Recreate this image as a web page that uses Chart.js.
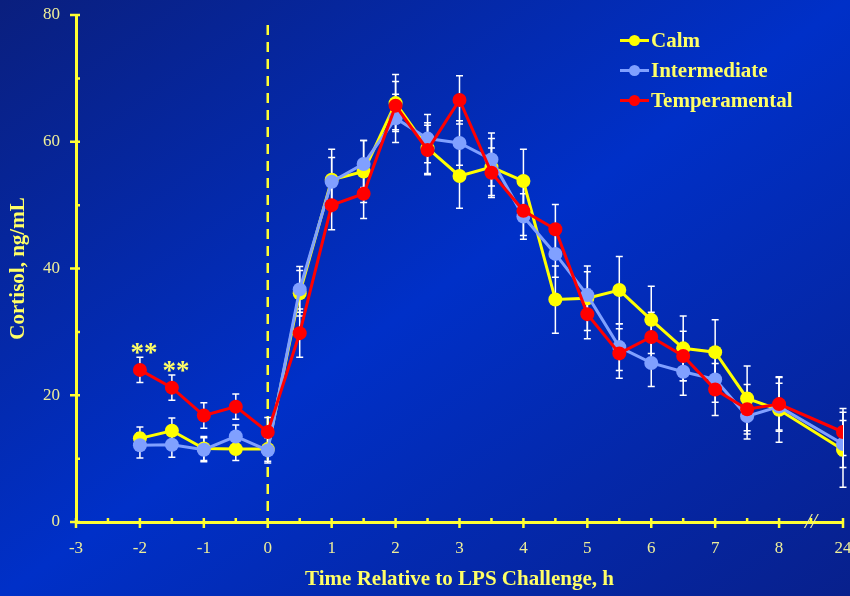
<!DOCTYPE html>
<html>
<head>
<meta charset="utf-8">
<title>Cortisol response to LPS challenge</title>
<script src="https://cdn.jsdelivr.net/npm/chart.js@4.4.1/dist/chart.umd.min.js"></script>
<style>
  html, body { margin: 0; padding: 0; }
  body {
    width: 850px; height: 596px; overflow: hidden; position: relative;
    background: linear-gradient(to bottom right, #0a1f7e 0%, #0030c8 50%, #08208c 100%);
    font-family: "Liberation Serif", "Times New Roman", serif;
  }
  #wrap { position: absolute; left: 0; top: 0; width: 850px; height: 596px; }
  .legend { position: absolute; left: 620px; top: 25px; }
  .legend .item { display: flex; align-items: center; height: 30px; }
  .legend .mark { position: relative; width: 29px; height: 30px; margin-right: 2px; }
  .legend .mark .ln { position: absolute; left: 0; right: 0; top: 14px; height: 3px; }
  .legend .mark .dot { position: absolute; left: 9px; top: 10px; width: 11px; height: 11px; border-radius: 50%; }
  .legend .txt { color: #ffff66; font-weight: bold; font-size: 21px; }
</style>
</head>
<body>
<div id="wrap"><canvas id="chart"></canvas></div>
<div class="legend" id="legend"></div>
<script>
// sampling times (h relative to LPS); 24 h sits past the axis break
const hours = [-2, -1.5, -1, -0.5, 0, 0.5, 1, 1.5, 2, 2.5, 3, 3.5, 4, 4.5, 5, 5.5, 6, 6.5, 7, 7.5, 8, 24];
const xTickLabels = ['-3', '-2', '-1', '0', '1', '2', '3', '4', '5', '6', '7', '8', '24'];
const yTicks = [0, 20, 40, 60, 80];

const calm = [13.2, 14.4, 11.6, 11.5, 11.5, 36.1, 54.0, 55.3, 66.1, 59.0, 54.6, 56.0, 53.8, 35.1, 35.3, 36.6, 31.9, 27.4, 26.8, 19.5, 17.7, 11.4];
const calmSem = [1.8, 2.0, 1.9, 1.8, 1.9, 3.6, 4.8, 4.9, 4.5, 4.0, 5.1, 4.5, 5.0, 5.3, 5.1, 5.3, 5.3, 5.1, 5.1, 5.1, 5.1, 5.9];
const intermediate = [12.1, 12.2, 11.4, 13.5, 11.3, 36.7, 53.7, 56.5, 63.7, 60.5, 59.8, 57.2, 48.2, 42.3, 35.8, 27.6, 25.1, 23.7, 22.5, 16.7, 18.2, 12.3];
const intermediateSem = [2.0, 2.0, 1.9, 1.8, 2.0, 3.6, 3.8, 3.7, 3.8, 3.8, 3.5, 4.2, 3.6, 3.7, 3.7, 3.7, 3.7, 3.7, 3.6, 3.6, 3.7, 3.7];
const temperamental = [24.0, 21.2, 16.8, 18.2, 14.2, 29.8, 50.0, 51.8, 65.7, 58.7, 66.6, 55.1, 49.1, 46.2, 32.8, 26.6, 29.2, 26.2, 20.9, 17.8, 18.6, 14.2];
const temperamentalSem = [2.0, 2.0, 2.0, 2.0, 2.3, 3.8, 3.9, 3.9, 3.8, 3.9, 3.8, 3.9, 3.9, 3.9, 3.9, 3.9, 3.9, 3.9, 4.1, 3.9, 4.3, 3.7];
// temperamental differs from the others (P < 0.01) at these times
const starredHours = [-2, -1.5];

const AXIS_YELLOW = '#ffff33';
const TITLE_YELLOW = '#ffff66';
const TICK_TEXT = '#eeee99';

// 24 h is drawn one step after 8 h (broken axis)
const axisPos = h => (h === 24 ? 9 : h);
const toPoints = values => hours.map((h, i) => ({ x: axisPos(h), y: values[i] }));

const series = [
    { label: 'Calm', data: calm, sem: calmSem, color: '#ffff00', order: 3 },
    { label: 'Intermediate', data: intermediate, sem: intermediateSem, color: '#80a0ff', order: 2 },
    { label: 'Temperamental', data: temperamental, sem: temperamentalSem, color: '#ff0000', order: 1 }
];

const decorations = {
    id: 'decorations',
    beforeDatasetsDraw(chart) {
        const { ctx, chartArea, scales: { x, y } } = chart;
        ctx.save();
        // dashed line at LPS challenge
        ctx.strokeStyle = AXIS_YELLOW;
        ctx.lineWidth = 2.5;
        ctx.setLineDash([10, 7]);
        const x0 = x.getPixelForValue(0);
        ctx.beginPath();
        ctx.moveTo(x0, chartArea.top + 10);
        ctx.lineTo(x0, chartArea.bottom);
        ctx.stroke();
        ctx.setLineDash([]);

        // SEM whiskers
        ctx.strokeStyle = '#ffffff';
        ctx.lineWidth = 1.5;
        series.forEach(s => {
            hours.forEach((h, i) => {
                const px = x.getPixelForValue(axisPos(h));
                const top = y.getPixelForValue(s.data[i] + s.sem[i]);
                const bot = y.getPixelForValue(s.data[i] - s.sem[i]);
                ctx.beginPath();
                ctx.moveTo(px, top); ctx.lineTo(px, bot);
                ctx.moveTo(px - 3.5, top); ctx.lineTo(px + 3.5, top);
                ctx.moveTo(px - 3.5, bot); ctx.lineTo(px + 3.5, bot);
                ctx.stroke();
            });
        });
        ctx.restore();
    },
    afterDraw(chart) {
        const { ctx, chartArea, scales: { x, y } } = chart;
        ctx.save();
        ctx.strokeStyle = AXIS_YELLOW;
        ctx.lineWidth = 2.5;
        const ax = chartArea.left, ay = chartArea.bottom;
        ctx.beginPath();
        for (let v = 0; v <= 80; v += 10) {
            const py = y.getPixelForValue(v);
            const major = v % 20 === 0;
            ctx.moveTo(major ? ax - 6 : ax, py);
            ctx.lineTo(ax + 4, py);
        }
        for (let v = -3; v <= 9; v += 0.5) {
            const px = x.getPixelForValue(v);
            const major = Number.isInteger(v);
            ctx.moveTo(px, ay - 4);
            ctx.lineTo(px, major ? ay + 6 : ay);
        }
        ctx.stroke();

        // axis break between 8 h and 24 h
        ctx.fillStyle = TICK_TEXT;
        ctx.font = 'italic 22px "Liberation Serif", serif';
        ctx.textAlign = 'center';
        ctx.textBaseline = 'middle';
        ctx.fillText('//', x.getPixelForValue(8.5), ay);

        // significance marks above temperamental whiskers
        ctx.fillStyle = TITLE_YELLOW;
        ctx.font = 'bold 27px "Liberation Serif", serif';
        ctx.textBaseline = 'alphabetic';
        starredHours.forEach(h => {
            const i = hours.indexOf(h);
            const px = x.getPixelForValue(axisPos(h));
            const py = y.getPixelForValue(temperamental[i] + temperamentalSem[i]);
            ctx.fillText('**', px + 4, py + 4);
        });
        ctx.restore();
    }
};

const chart = new Chart(document.getElementById('chart'), {
    type: 'line',
    data: {
        datasets: series.map(s => ({
            label: s.label,
            data: toPoints(s.data),
            borderColor: s.color,
            backgroundColor: s.color,
            pointBackgroundColor: s.color,
            pointBorderWidth: 0,
            pointRadius: 7,
            borderWidth: 3,
            order: s.order
        }))
    },
    options: {
        responsive: true,
        maintainAspectRatio: false,
        animation: false,
        layout: { padding: { left: 0, right: 2, top: 15, bottom: 0 } },
        plugins: { legend: { display: false }, tooltip: { enabled: false } },
        scales: {
            x: {
                type: 'linear', min: -3, max: 9,
                grid: { display: false, drawTicks: false },
                border: { color: AXIS_YELLOW, width: 3 },
                afterBuildTicks: scale => { scale.ticks = xTickLabels.map((t, i) => ({ value: i - 3 })); },
                ticks: {
                    color: TICK_TEXT, padding: 16, maxRotation: 0, autoSkip: false,
                    font: { family: '"Liberation Serif", serif', size: 17 },
                    callback: (v, i) => xTickLabels[i]
                },
                title: {
                    display: true, text: 'Time Relative to LPS Challenge, h', color: TITLE_YELLOW,
                    font: { family: '"Liberation Serif", serif', size: 21, weight: 'bold' },
                    padding: { top: 0, bottom: 4 }
                },
                afterFit: scale => { scale.height = 74; scale.paddingLeft = 0; scale.paddingRight = 0; }
            },
            y: {
                min: 0, max: 80,
                grid: { display: false, drawTicks: false },
                border: { color: AXIS_YELLOW, width: 3 },
                afterBuildTicks: scale => { scale.ticks = yTicks.map(v => ({ value: v })); },
                ticks: {
                    color: TICK_TEXT, padding: 16,
                    font: { family: '"Liberation Serif", serif', size: 17 }
                },
                title: {
                    display: true, text: 'Cortisol, ng/mL', color: TITLE_YELLOW,
                    font: { family: '"Liberation Serif", serif', size: 21, weight: 'bold' },
                    padding: { top: 6, bottom: 0 }
                },
                afterFit: scale => { scale.width = 76; scale.paddingTop = 0; scale.paddingBottom = 0; }
            }
        }
    },
    plugins: [decorations]
});

// legend: line with a dot, as in the series
const legend = document.getElementById('legend');
series.forEach(s => {
    const item = document.createElement('div');
    item.className = 'item';
    item.innerHTML = '<span class="mark"><span class="ln" style="background:' + s.color + '"></span>' +
        '<span class="dot" style="background:' + s.color + '"></span></span>' +
        '<span class="txt">' + s.label + '</span>';
    legend.appendChild(item);
});
</script>
</body>
</html>
